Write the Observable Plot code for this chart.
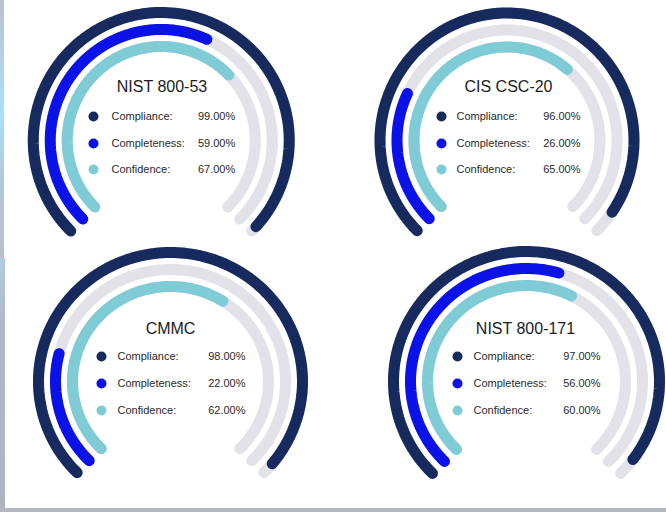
<!DOCTYPE html>
<html>
<head>
<meta charset="utf-8">
<script src="https://cdn.jsdelivr.net/npm/d3@7"></script>
<script src="https://cdn.jsdelivr.net/npm/@observablehq/plot@0.6"></script>
<style>
html, body { margin: 0; padding: 0; background: #fff; }
#wrap { position: relative; width: 666px; height: 512px; overflow: hidden; background: #fff; }
#wrap svg { position: absolute; left: 0; top: 0; }
.strip-top { position: absolute; left: 0; top: 0; width: 4px; height: 258px;
  background: linear-gradient(#b9c1d0 0%, #b3d3e8 25%, #a6e2f6 45%, #b3c6da 70%, #b7bfcd 100%); }
.strip-bot { position: absolute; left: 0; top: 258px; width: 5px; height: 254px;
  background: linear-gradient(#b2cbe0 0%, #b0b8c6 25%, #aeb3c0 100%); }
.line-bot { position: absolute; left: 0; top: 508px; width: 666px; height: 4px; background: #b4b8c2; }
</style>
</head>
<body>
<div id="wrap"></div>
<script>
// ---- data ----
const frameworks = ["NIST 800-53", "CIS CSC-20", "CMMC", "NIST 800-171"];
const metrics = ["Compliance", "Completeness", "Confidence"];
const compliance = [99, 96, 98, 97];
const completeness = [59, 26, 22, 56];
const confidence = [67, 65, 62, 60];

// ---- layout / style ----
const panels = [
  {cx: 160.75, cy: 140, rx: 128, ry: 128, titleDx: 0.75, titleDy: -54, dotDx: -67.75, labelDx: -49.75, valueDx: 74, rowDy: [-24, 3, 29]},
  {cx: 506.5, cy: 140, rx: 127, ry: 127.5, titleDx: 1.5, titleDy: -54, dotDx: -65.5, labelDx: -50.5, valueDx: 73.5, rowDy: [-24, 3, 29]},
  {cx: 170, cy: 381, rx: 132, ry: 129, titleDx: 0, titleDy: -53, dotDx: -69, labelDx: -53, valueDx: 75, rowDy: [-25, 2, 29]},
  {cx: 526, cy: 381, rx: 133, ry: 130, titleDx: -1, titleDy: -53, dotDx: -69, labelDx: -53, valueDx: 74, rowDy: [-25, 2, 29]}
];
const ringGap = 17;
const strokeW = 11;
const colors = ["#172a5e", "#0a12e8", "#80ccd6"];
const trackColor = "#e2e2e8";
const startDeg = -135, sweepDeg = 270;

const series = [compliance, completeness, confidence];

function arc(pi, ring, frac, key) {
  const p = panels[pi];
  const rX = p.rx - ring * ringGap, rY = p.ry - ring * ringGap;
  const n = Math.max(2, Math.ceil(frac * 160));
  const pts = [];
  for (let i = 0; i <= n; i++) {
    const a = (startDeg + sweepDeg * frac * i / n) * Math.PI / 180;
    pts.push({x: p.cx + rX * Math.sin(a), y: p.cy - rY * Math.cos(a), id: key, metric: key.split("|")[2]});
  }
  return pts;
}

const tracks = [], values = [];
frameworks.forEach((f, i) => {
  metrics.forEach((m, j) => {
    tracks.push(...arc(i, j, 1, `${f}|t|track|${m}`));
    values.push(...arc(i, j, series[j][i] / 100, `${f}|v|${m}`));
  });
});

const titles = frameworks.map((f, i) => ({x: panels[i].cx + panels[i].titleDx, y: panels[i].cy + panels[i].titleDy, text: f}));
const rows = [];
frameworks.forEach((f, i) => {
  const p = panels[i];
  metrics.forEach((m, j) => {
    rows.push({
      metric: m,
      dotX: p.cx + p.dotDx, labelX: p.cx + p.labelDx, valueX: p.cx + p.valueDx,
      y: p.cy + p.rowDy[j],
      label: m + ":", value: series[j][i].toFixed(2) + "%"
    });
  });
});

const chart = Plot.plot({
  width: 666, height: 512, margin: 0,
  style: {fontFamily: "'Liberation Sans', Arial, Helvetica, sans-serif", background: "transparent", overflow: "visible"},
  x: {domain: [0, 666], range: [0, 666], axis: null},
  y: {domain: [0, 512], range: [0, 512], axis: null},
  color: {domain: [...metrics, "track"], range: [...colors, trackColor]},
  marks: [
    Plot.line(tracks, {x: "x", y: "y", z: "id", stroke: "metric", strokeWidth: strokeW, strokeLinecap: "round", strokeLinejoin: "round"}),
    Plot.line(values, {x: "x", y: "y", z: "id", stroke: "metric", strokeWidth: strokeW, strokeLinecap: "round", strokeLinejoin: "round"}),
    Plot.text(titles, {x: "x", y: "y", text: "text", fontSize: 16, fill: "#1c1c1c", textAnchor: "middle"}),
    Plot.dot(rows, {x: "dotX", y: "y", r: 5, fill: "metric", stroke: null}),
    Plot.text(rows, {x: "labelX", y: "y", text: "label", fontSize: 11, fill: "#2a2a2a", textAnchor: "start"}),
    Plot.text(rows, {x: "valueX", y: "y", text: "value", fontSize: 11, fill: "#2a2a2a", textAnchor: "end"})
  ]
});
const wrap = document.getElementById("wrap");
wrap.appendChild(chart);
for (const c of ["strip-top", "strip-bot", "line-bot"]) {
  const d = document.createElement("div"); d.className = c; wrap.appendChild(d);
}
</script>
</body>
</html>
